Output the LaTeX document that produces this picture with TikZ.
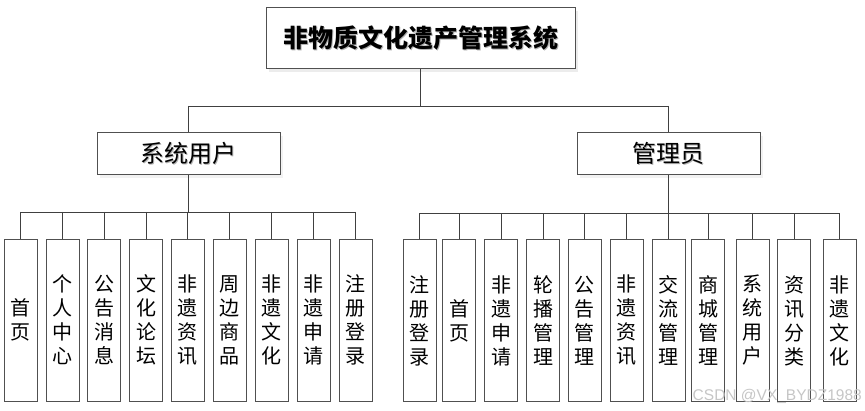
\documentclass[tikz,border=0pt]{standalone}
\usepackage{fontspec}
\newfontfamily\cjk{Noto Sans CJK SC}
\newfontfamily\wmfont{Liberation Sans}
\usetikzlibrary{shadows}
\definecolor{linegray}{HTML}{404040}
\definecolor{boxgray}{HTML}{505050}
\newcommand{\shtext}[2]{\makebox[0pt][l]{\hspace{#2}\raisebox{-#2}{\textcolor{gray!60}{#1}}}#1}

\begin{document}
\begin{tikzpicture}[x=1pt,y=-1pt,
                    conn/.style={linegray, line width=0.9pt},
                    topbox/.style={draw=boxgray, line width=1pt, fill=white,
                                   minimum width=309, minimum height=61,
                                   drop shadow={shadow xshift=3pt, shadow yshift=-3pt, fill=gray!30},
                                   font=\cjk\bfseries\fontsize{25}{30}\selectfont},
                    rolebox/.style={draw=boxgray, line width=1pt, fill=white,
                                    minimum width=183, minimum height=42,
                                    drop shadow={shadow xshift=3pt, shadow yshift=-3pt, fill=gray!20},
                                    font=\cjk\fontsize{24}{28}\selectfont},
                    leafbox/.style={draw=boxgray, line width=0.9pt, fill=white,
                                    minimum width=33, minimum height=162, inner sep=0pt,
                                    align=center, font=\cjk\fontsize{20}{24}\selectfont},
                   ]

\useasboundingbox (0,0) rectangle (865,411);

% top levels
\node[topbox] (root) at (420.5,38.5) {\shtext{非物质文化遗产管理系统}{1.5pt}};
\node[rolebox] (user) at (188.5,154) {\shtext{系统用户}{0.8pt}};
\node[rolebox] (admin) at (668.5,154) {\shtext{管理员}{0.8pt}};

\coordinate (bus) at (420.5,106);
\coordinate (ubus) at (188.5,212);
\coordinate (abus) at (668.5,213.5);

\draw[conn] (root.south) -- (bus);
\draw[conn] (user.north |- bus) -- (admin.north |- bus);
\draw[conn] (user.north |- bus) -- (user.north);
\draw[conn] (admin.north |- bus) -- (admin.north);

% system user leaves
\foreach \x/\t [count=\i] in {20.5/{首\\页}, 62.5/{个\\人\\中\\心}, 104/{公\\告\\消\\息},
                              146/{文\\化\\论\\坛}, 187.5/{非\\遗\\资\\讯}, 229.5/{周\\边\\商\\品},
                              271.5/{非\\遗\\文\\化}, 313.5/{非\\遗\\申\\请}, 355.5/{注\\册\\登\\录}}
{
  \node[leafbox] (u\i) at (\x,320) {\t};
  \draw[conn] (u\i.north |- ubus) -- (u\i.north);
}
\draw[conn] (user.south) -- (ubus);
\draw[conn] (u1.north |- ubus) -- (u9.north |- ubus);

% admin leaves
\foreach \x/\t [count=\i] in {419.5/{注\\册\\登\\录}, 459/{首\\页}, 501/{非\\遗\\申\\请},
                              543/{轮\\播\\管\\理}, 584.5/{公\\告\\管\\理}, 626.5/{非\\遗\\资\\讯},
                              668.5/{交\\流\\管\\理}, 708/{商\\城\\管\\理}, 752.5/{系\\统\\用\\户},
                              794/{资\\讯\\分\\类}, 839.5/{非\\遗\\文\\化}}
{
  \node[leafbox] (a\i) at (\x,320.5) {\t};
  \draw[conn] (a\i.north |- abus) -- (a\i.north);
}
\draw[conn] (admin.south) -- (abus);
\draw[conn] (a1.north |- abus) -- (a11.north |- abus);

\node[anchor=base east, text=gray!45, inner sep=0pt,
      font=\wmfont\fontsize{15.5}{18}\selectfont] (wm) at (862,401) {CSDN @VX\_BYDZ1988};

\end{tikzpicture}
\end{document}
